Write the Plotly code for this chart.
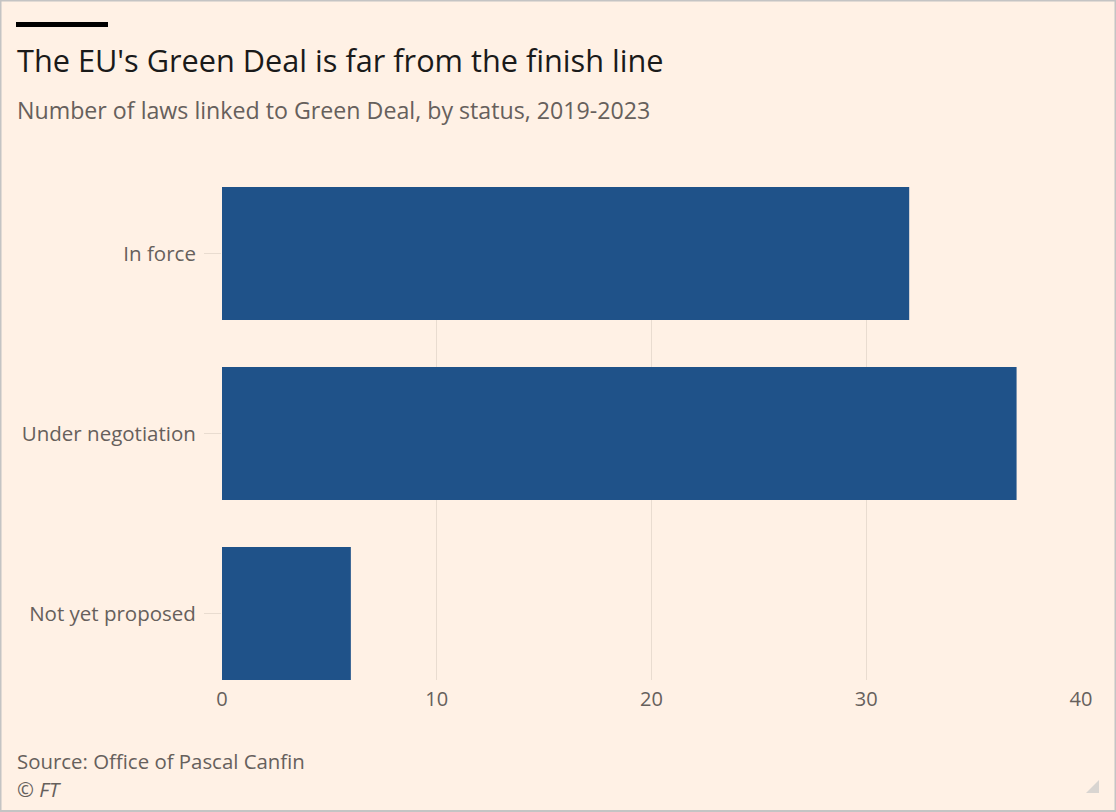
import plotly.graph_objects as go

categories = ["In force", "Under negotiation", "Not yet proposed"]
values = [32, 37, 6]
x_ticks = [0, 10, 20, 30, 40]

W, H = 1116, 812
L, R, T, B = 222, 1081, 187, 680
pw, ph = R - L, B - T

def px(x):
    return (x - L) / pw

def py(y):
    return (B - y) / ph

BG = "#fff1e5"
BAR = "#1f5289"
GRID = "#e9dcd0"
TXT = "#66605c"
FONT = "Open Sans"

bw = 133 / 180

fig = go.Figure(go.Bar(
    x=values, y=categories, orientation="h",
    marker=dict(color=BAR, line=dict(width=0)),
    width=bw,
))

fig.update_layout(
    width=W, height=H,
    margin=dict(l=L, r=W - R, t=T, b=H - B, pad=0),
    paper_bgcolor=BG, plot_bgcolor=BG,
    font=dict(family=FONT, color=TXT, size=17),
    showlegend=False,
    xaxis=dict(range=[0, 40], tickvals=x_ticks, showgrid=True, gridcolor=GRID, gridwidth=1,
               zeroline=False, showline=False, ticks="", tickfont=dict(size=20, color=TXT),
               ticklabelstandoff=5),
    yaxis=dict(categoryorder="array", categoryarray=categories,
               range=[2 + bw / 2, -bw / 2], showgrid=False, zeroline=False,
               ticks="outside", ticklen=17, tickcolor=GRID, tickwidth=1,
               tickfont=dict(size=20.5, color=TXT), ticklabelstandoff=4, showline=False),
)

shapes = [
    dict(type="rect", xref="paper", yref="paper", x0=px(16), x1=px(108), y0=py(27), y1=py(22),
         fillcolor="#000000", line=dict(width=0)),
    dict(type="rect", xref="paper", yref="paper", x0=px(0.5), x1=px(W - 0.5), y0=py(H - 1), y1=py(0.5),
         fillcolor="rgba(0,0,0,0)", line=dict(color="#c4c4c4", width=2)),
    dict(type="path", xref="paper", yref="paper",
         path=f"M {px(1099)} {py(780)} L {px(1099)} {py(793)} L {px(1086)} {py(793)} Z",
         fillcolor="#d9d5d1", line=dict(width=0)),
]
fig.update_layout(shapes=shapes)

annots = [
    dict(text="The EU's Green Deal is far from the finish line", x=px(15), y=py(60),
         font=dict(size=30.7, color="#1a1a1a", family=FONT)),
    dict(text="Number of laws linked to Green Deal, by status, 2019-2023", x=px(15), y=py(110),
         font=dict(size=23.2, color=TXT, family=FONT)),
    dict(text="Source: Office of Pascal Canfin", x=px(15), y=py(761),
         font=dict(size=20.4, color=TXT, family=FONT)),
    dict(text="<i>© FT</i>", x=px(15), y=py(789),
         font=dict(size=20.4, color=TXT, family=FONT)),
]
for a in annots:
    fig.add_annotation(xref="paper", yref="paper", xanchor="left", yanchor="middle",
                       showarrow=False, **a)

fig.write_html("out.html")
